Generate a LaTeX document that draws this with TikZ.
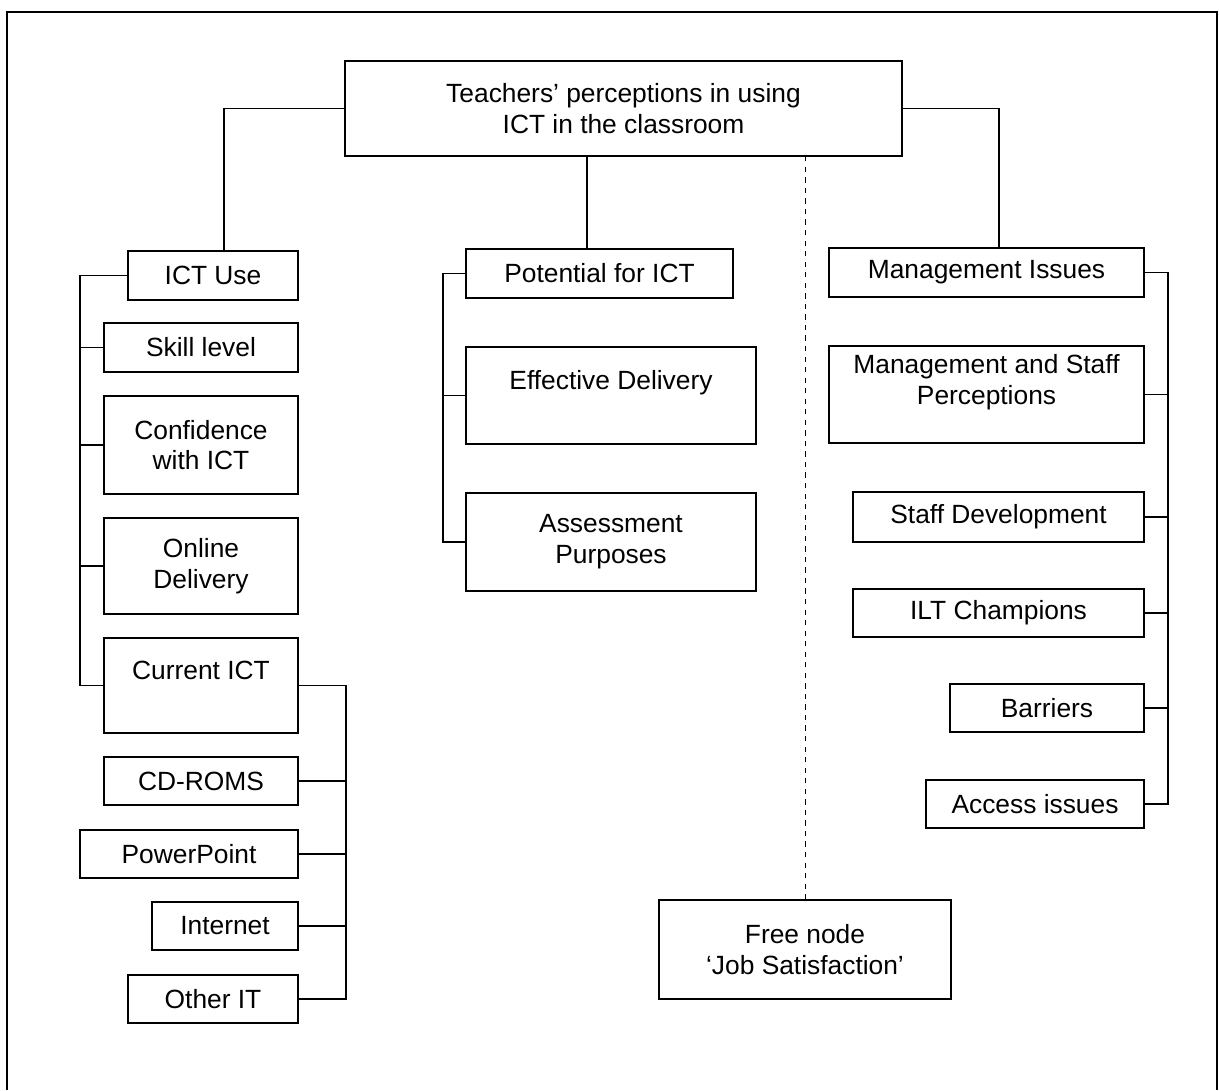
\documentclass[tikz,border=0pt]{standalone}
\usepackage{fontspec}
\setmainfont{Liberation Sans}
\usetikzlibrary{calc}

\begin{document}
\begin{tikzpicture}[x=0.02cm, y=-0.02cm, line width=0.7pt,
        every node/.style={draw, rectangle, inner sep=0pt, align=center,
            font=\fontsize{15}{17.5}\selectfont}]
        \useasboundingbox (0,0) rectangle (1219,1090);
        \draw (7,1090) -- (7,12) -- (1217,12) -- (1217,1090);

        \node[minimum width=11.14cm, minimum height=1.9cm] (root) at (623.5,108.5) {Teachers’ perceptions in using\\ICT in the classroom};

        \node[minimum width=3.4cm, minimum height=0.98cm] (ictuse) at (213,275.5) {ICT Use};
        \node[minimum width=3.88cm, minimum height=0.98cm] (skill) at (201,347.5) {Skill level};
        \node[minimum width=3.88cm, minimum height=1.96cm] (conf) at (201,445) {Confidence\\with ICT};
        \node[minimum width=3.88cm, minimum height=1.92cm] (online) at (201,566) {Online\\Delivery};
        \node[minimum width=3.88cm, minimum height=1.9cm] (current) at (201,685.5) {Current ICT\\~};
        \node[minimum width=3.88cm, minimum height=0.96cm] (cdroms) at (201,781) {CD-ROMS};
        \node[minimum width=4.36cm, minimum height=0.96cm] (ppt) at (189,854) {PowerPoint};
        \node[minimum width=2.92cm, minimum height=0.96cm] (internet) at (225,926) {Internet};
        \node[minimum width=3.4cm, minimum height=0.96cm] (otherit) at (213,999) {Other IT};

        \node[minimum width=5.34cm, minimum height=0.98cm] (potential) at (599.5,273.5) {Potential for ICT};
        \node[minimum width=5.8cm, minimum height=1.94cm] (effective) at (611,395.5) {Effective Delivery\\~};
        \node[minimum width=5.8cm, minimum height=1.96cm] (assess) at (611,542) {Assessment\\Purposes};

        \node[minimum width=6.3cm, minimum height=0.98cm] (mgmt) at (986.5,272.5) {Management Issues};
        \node[minimum width=6.3cm, minimum height=1.94cm] (perc) at (986.5,394.5) {Management and Staff\\Perceptions\\~};
        \node[minimum width=5.82cm, minimum height=1.0cm] (staffdev) at (998.5,517) {Staff Development};
        \node[minimum width=5.82cm, minimum height=0.96cm] (ilt) at (998.5,613) {ILT Champions};
        \node[minimum width=3.88cm, minimum height=0.96cm] (barriers) at (1047,708) {Barriers};
        \node[minimum width=4.36cm, minimum height=0.96cm] (access) at (1035,804) {Access issues};

        \node[minimum width=5.84cm, minimum height=1.98cm] (free) at (805,949.5) {Free node\\‘Job Satisfaction’};

        \coordinate (busL) at (80,0);
        \coordinate (busC) at (346,0);
        \coordinate (busM) at (443,0);
        \coordinate (busR) at (1168,0);

        \draw (root.west) -| ([xshift=0.22cm]ictuse.north);
        \draw (root.east) -| ([xshift=0.25cm]mgmt.north);
        \draw ([xshift=-0.25cm]potential.north) -- ([xshift=-0.25cm]potential.north |- root.south);
        \draw[dashed, line width=0.5pt] (free.north) -- (free.north |- root.south);

        \draw (ictuse.west) -- (ictuse.west -| busL) -- (current.west -| busL) -- (current.west);
        \foreach \n in {skill,conf,online}
            \draw (\n.west) -- (\n.west -| busL);

        \draw (current.east) -- (current.east -| busC) -- (otherit.east -| busC) -- (otherit.east);
        \foreach \n in {cdroms,ppt,internet}
            \draw (\n.east) -- (\n.east -| busC);

        \draw (potential.west) -- (potential.west -| busM) -- (assess.west -| busM) -- (assess.west);
        \draw (effective.west) -- (effective.west -| busM);

        \draw (mgmt.east) -- (mgmt.east -| busR) -- (access.east -| busR) -- (access.east);
        \foreach \n in {perc,staffdev,ilt,barriers}
            \draw (\n.east) -- (\n.east -| busR);
    \end{tikzpicture}
\end{document}
